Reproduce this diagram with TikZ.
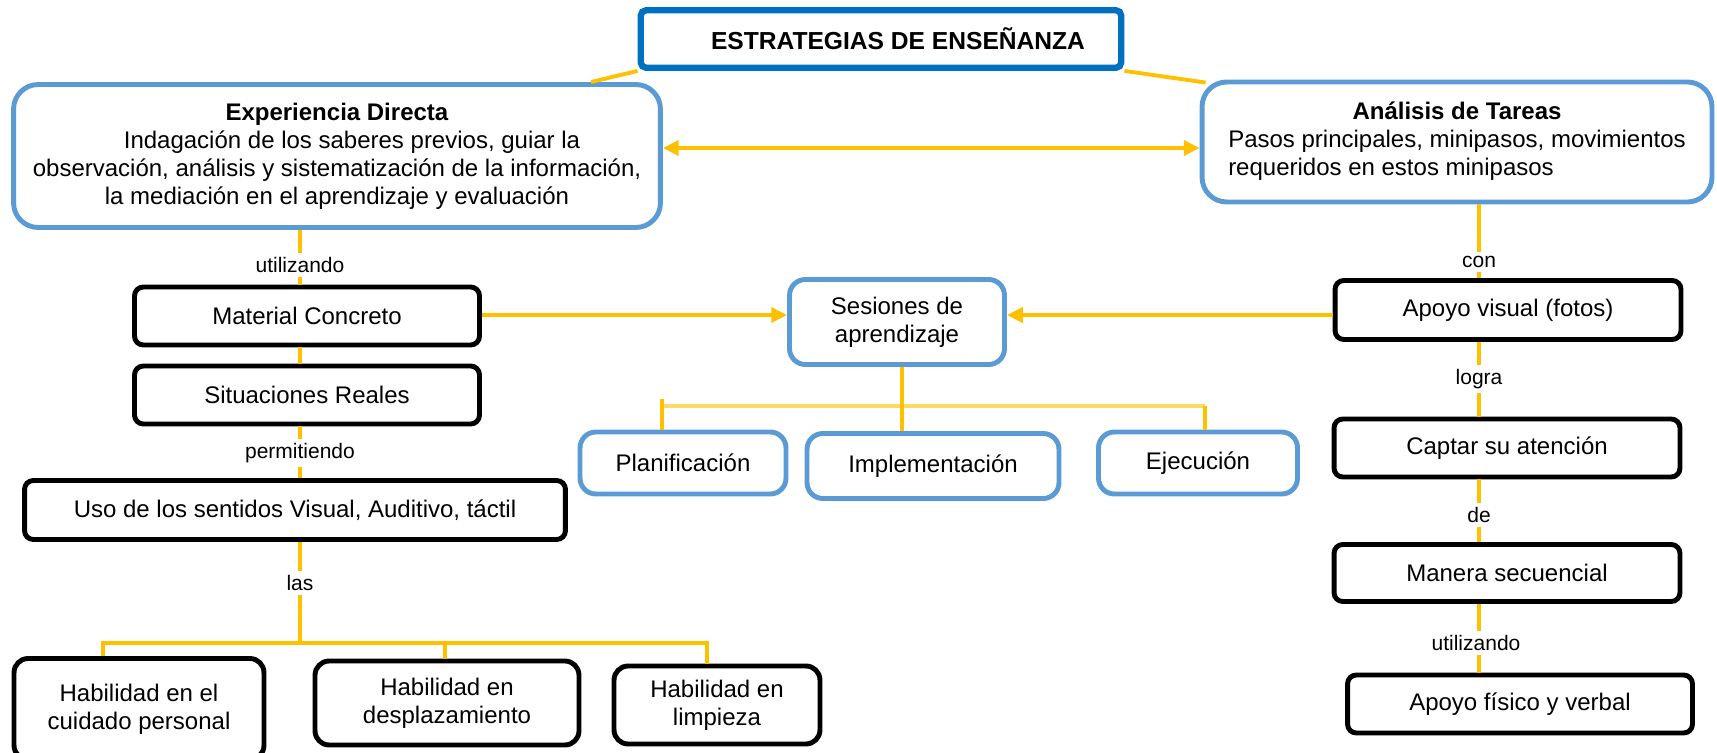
\documentclass[tikz,border=0pt]{standalone}
\usepackage{fontspec}
\setmainfont{Liberation Sans}
\usepackage{xcolor}
\usepackage{tikz}
\usetikzlibrary{arrows.meta,calc}

\definecolor{linkyellow}{HTML}{FFC000}
\definecolor{baryellow}{HTML}{FFD966}
\definecolor{boxblue}{HTML}{5B9BD5}
\definecolor{titleblue}{HTML}{0070C0}
\newcommand{\mapfont}{\fontsize{13.66pt}{15.9pt}\selectfont}
\newcommand{\linkfont}{\fontsize{11.95pt}{14pt}\selectfont}

\begin{document}
\begin{tikzpicture}[x=0.02cm, y=-0.02cm,
            bluebox/.style = {draw=boxblue, line width=2.8pt, rounded corners=9pt,
                        fill=white, align=center, font=\mapfont},
            blackbox/.style = {draw=black, line width=2.8pt, rounded corners=5pt,
                        fill=white, align=center, font=\mapfont},
            lbl/.style = {font=\linkfont, inner xsep=1pt, inner ysep=2pt},
            link/.style = {draw=linkyellow, line width=2.2pt},
            arrowlink/.style = {link, -{Triangle[length=9pt,width=8.5pt]}},
            arrowboth/.style = {link, {Triangle[length=9pt,width=8.5pt]}-{Triangle[length=9pt,width=8.5pt]}}]
            \useasboundingbox (0,0) rectangle (1717,753);
            \fill[white] (0,0) rectangle (1717,753);
            % Title
            \node[draw=titleblue, line width=3.6pt, rounded corners=3pt,
                  minimum width=9.61cm, minimum height=1.15cm,
                  font=\bfseries\fontsize{14pt}{16pt}\selectfont] (title) at (881,39) {\hspace*{0.68cm}ESTRATEGIAS DE ENSEÑANZA};
            % Strategies
            \node[bluebox, rounded corners=14pt, minimum width=12.94cm, minimum height=2.86cm] (ED) at (337,156)
                  {\textbf{Experiencia Directa}\\\hspace*{0.6cm}Indagación de los saberes previos, guiar la\\observación, análisis y sistematización de la información,\\la mediación en el aprendizaje y evaluación};
            \node[bluebox, rounded corners=14pt, minimum width=10.2cm, minimum height=2.4cm] (AT) at (1457,142)
                  {\begin{tabular}{@{}l@{}}\multicolumn{1}{@{}c@{}}{\textbf{Análisis de Tareas}}\\Pasos principales, minipasos, movimientos\\requeridos en estos minipasos\end{tabular}};
            % Left column
            \node[blackbox, minimum width=6.9cm, minimum height=1.16cm] (MC) at (307,316) {Material Concreto};
            \node[blackbox, minimum width=6.9cm, minimum height=1.16cm] (SR) at (307,395) {Situaciones Reales};
            \node[blackbox, minimum width=10.82cm, minimum height=1.18cm] (uso) at (295,510) {Uso de los sentidos Visual, Auditivo, táctil};
            \node[blackbox, rounded corners=8pt, minimum width=5.0cm, minimum height=2.02cm] (hab1) at (139,709) {Habilidad en el\\cuidado personal};
            \node[blackbox, rounded corners=8pt, minimum width=5.28cm, minimum height=1.68cm] (hab2) at (447,703) {Habilidad en\\desplazamiento};
            \node[blackbox, rounded corners=8pt, minimum width=4.12cm, minimum height=1.56cm] (hab3) at (717,705) {Habilidad en\\limpieza};
            % Sessions
            \node[bluebox, minimum width=4.3cm, minimum height=1.7cm] (ses) at (897,322) {Sesiones de\\aprendizaje};
            \node[bluebox, minimum width=4.12cm, minimum height=1.24cm] (plan) at (683,463) {Planificación};
            \node[bluebox, minimum width=5.04cm, minimum height=1.3cm] (impl) at (933,466) {Implementación};
            \node[bluebox, minimum width=3.98cm, minimum height=1.24cm] (ejec) at (1198,463) {Ejecución};
            % Right column
            \node[blackbox, minimum width=6.92cm, minimum height=1.18cm] (visual) at (1508,310) {Apoyo visual (fotos)};
            \node[blackbox, minimum width=6.92cm, minimum height=1.16cm] (captar) at (1507,448) {Captar su atención};
            \node[blackbox, minimum width=6.92cm, minimum height=1.14cm] (manera) at (1507,573) {Manera secuencial};
            \node[blackbox, minimum width=6.9cm, minimum height=1.16cm] (fisico) at (1520,704) {Apoyo físico y verbal};
            % Link words
            \node[lbl] (utilL) at (300,265) {utilizando};
            \node[lbl] (perm) at (300,453) {permitiendo};
            \node[lbl] (las) at (300,583) {las};
            \node[lbl] (con) at (1479,262) {con};
            \node[lbl] (logra) at (1479,379) {logra};
            \node[lbl] (de) at (1479,515) {de};
            \node[lbl] (utilR) at (1476,643) {utilizando};
            % Helper points
            \coordinate (arrowy) at (0,148);
            \coordinate (sesy) at (0,315);
            \coordinate (hbar) at (300,643);
            \coordinate (j1) at (103,643);
            \coordinate (j2) at (445,643);
            \coordinate (j3) at (707,643);
            \coordinate (barL) at (662,406);
            \coordinate (barR) at (1205,406);
            \coordinate (sesx) at (902,0);
            % Title links
            \draw[link] (title.south west) -- ($(ED.north)+(254,0)$);
            \draw[link] (title.south east) -- ($(AT.north west)+(6,3)$);
            \draw[arrowboth] (ED.east |- arrowy) -- (AT.west |- arrowy);
            % Left links
            \draw[link] (ED.south -| utilL) -- (utilL);
            \draw[link] (utilL) -- (MC.north -| utilL);
            \draw[link] (MC.south -| utilL) -- (SR.north -| utilL);
            \draw[link] (SR.south -| perm) -- (perm);
            \draw[link] (perm) -- (uso.north -| perm);
            \draw[link] (uso.south -| las) -- (las);
            \draw[link] (las) -- (hbar);
            \draw[link] (hab1.north -| j1) |- (hbar) -| (hab3.north -| j3);
            \draw[link] (hab2.north -| j2) -- (j2);
            % Session links
            \draw[arrowlink] (MC.east |- sesy) -- (ses.west |- sesy);
            \draw[arrowlink] (visual.west |- sesy) -- (ses.east |- sesy);
            \draw[link, draw=baryellow, line width=2.6pt] (barL) -- (barR);
            \draw[link] (ses.south -| sesx) -- (impl.north -| sesx);
            \draw[link] ($(barL)+(0,-7)$) -- (plan.north -| barL);
            \draw[link] (barR) -- (ejec.north -| barR);
            % Right links
            \draw[link] (AT.south -| con) -- (con);
            \draw[link] (con) -- (visual.north -| con);
            \draw[link] (visual.south -| logra) -- (logra);
            \draw[link] (logra) -- (captar.north -| logra);
            \draw[link] (captar.south -| de) -- (de);
            \draw[link] (de) -- (manera.north -| de);
            \draw[link] (manera.south -| con) -- (con |- utilR.north);
            \draw[link] (con |- utilR.south) -- (fisico.north -| con);
        \end{tikzpicture}
\end{document}
